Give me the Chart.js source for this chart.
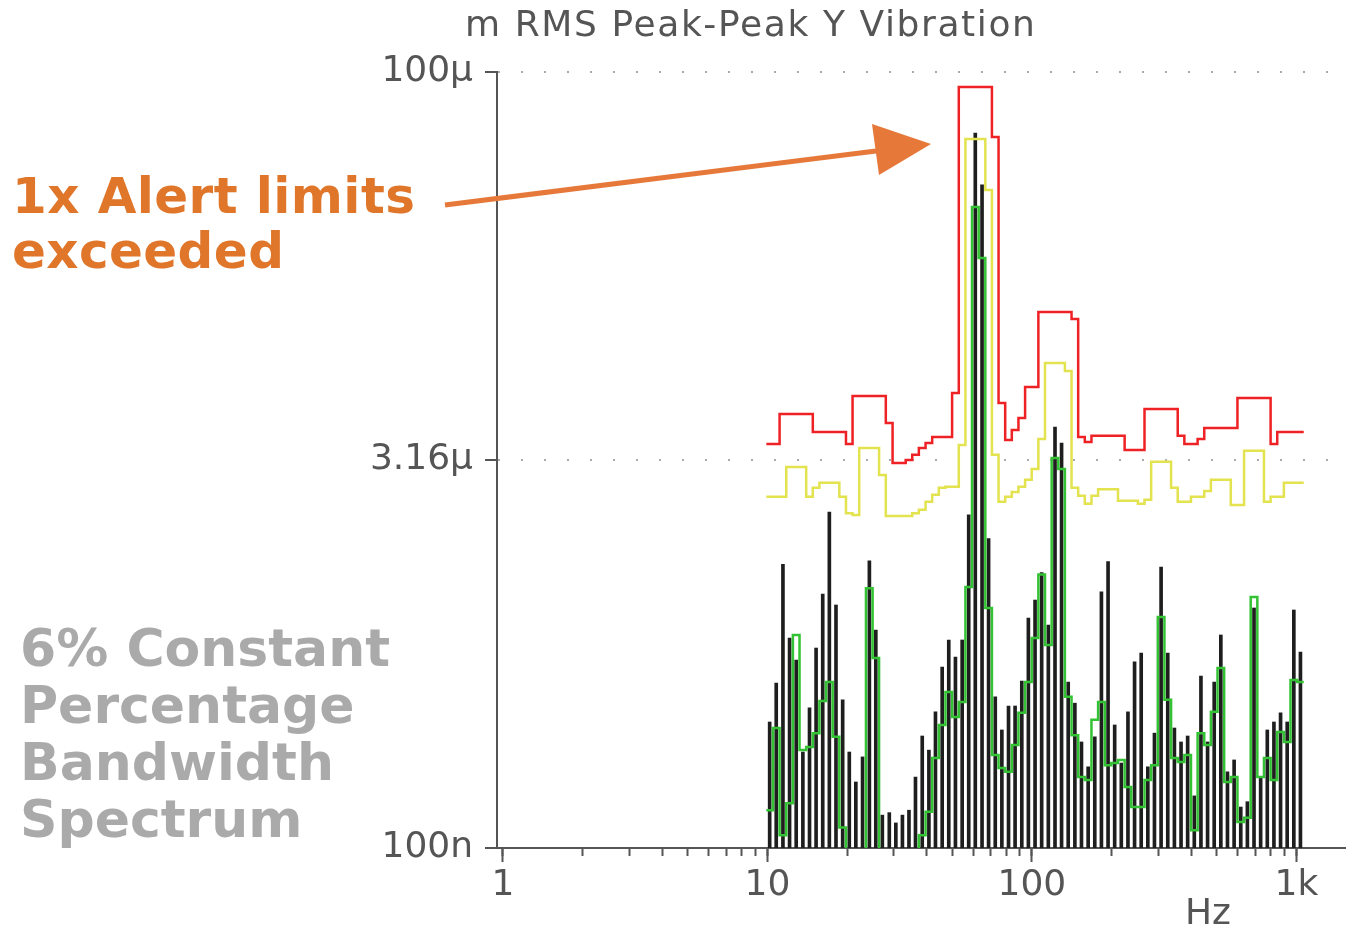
<!DOCTYPE html>
<html>
<head>
<meta charset="utf-8">
<title>m RMS Peak-Peak Y Vibration</title>
<script src="https://cdn.jsdelivr.net/npm/chart.js@4.4.1/dist/chart.umd.min.js"></script>
<style>
  html, body { margin: 0; padding: 0; background: #fff; }
  #wrap { position: relative; width: 1347px; height: 929px; overflow: hidden; font-family: 'DejaVu Sans', sans-serif; }
  #plot { position: absolute; left: 0; top: 0; }
  .lbl { position: absolute; white-space: nowrap; }
  #title { left: 465px; top: 6px; font-size: 36px; line-height: 36px; color: #555; letter-spacing: 1.6px; }
  #hz { left: 1185px; top: 894px; font-size: 36px; line-height: 36px; color: #555; }
  #alert { left: 12px; top: 169px; font-size: 50px; line-height: 55px; font-weight: bold; color: #e0762a; letter-spacing: 0.4px; }
  #cpb { left: 20px; top: 620px; font-size: 52px; line-height: 57px; font-weight: bold; color: #aaa; }
  #arrow { position: absolute; left: 0; top: 0; }
</style>
</head>
<body>
<div id="wrap">
  <canvas id="plot" width="1347" height="929"></canvas>
  <div class="lbl" id="title">m RMS Peak-Peak Y Vibration</div>
  <div class="lbl" id="hz">Hz</div>
  <div class="lbl" id="alert">1x Alert limits<br>exceeded</div>
  <div class="lbl" id="cpb">6% Constant<br>Percentage<br>Bandwidth<br>Spectrum</div>
  <svg id="arrow" width="1347" height="929">
    <line x1="445" y1="205" x2="884" y2="150" stroke="#e6783a" stroke-width="5"/>
    <polygon points="931,144 872,124 879,175" fill="#e6783a"/>
  </svg>
</div>
<script>
// 6% CPB band centres (Hz)
const bandHz = [10.2, 10.8, 11.45, 12.13, 12.85, 13.62, 14.43, 15.28, 16.19, 17.15, 18.17, 19.26,
  20.4, 21.6, 22.9, 24.3, 25.7, 27.2, 28.9, 30.6, 32.4, 34.3, 36.3, 38.5,
  40.8, 43.2, 45.8, 48.5, 51.4, 54.5, 57.7, 61.1, 64.8, 68.6, 72.7, 77.0,
  81.6, 86.4, 91.6, 97.0, 102.8, 108.9, 115.4, 122.3, 129.5, 137.2, 145.4, 154.0,
  163.2, 172.9, 183.2, 194.1, 205.6, 217.8, 230.8, 244.5, 259.0, 274.4, 290.7, 308.0,
  326.4, 345.8, 366.4, 388.1, 411.2, 435.7, 461.6, 489.0, 518.1, 548.9, 581.6, 616.2,
  652.8, 691.6, 732.7, 776.3, 822.5, 871.4, 923.2, 978.1, 1036];
// outer edges of the first and last band, so the step lines cover full bands
const bandEdgesHz = [9.91, 1066];

// measured spectrum, micrometres
const spectrum = [0.307, 0.434, 1.25, 0.648, 0.533, 0.235, 0.348, 0.593, 0.959, 1.99,
  0.870, 0.374, 0.235, 0.180, 0.225, 1.29, 0.696, 0.134, 0.137, 0.125,
  0.134, 0.140, 0.188, 0.271, 0.239, 0.336, 0.501, 0.637, 0.547, 0.637,
  1.94, 58.1, 36.6, 1.57, 0.384, 0.286, 0.354, 0.354, 0.442, 0.775,
  0.909, 1.16, 0.728, 4.24, 3.68, 0.438, 0.363, 0.257, 0.206, 0.269,
  0.977, 1.28, 0.299, 0.213, 0.336, 0.524, 0.567, 0.206, 0.278, 1.22,
  0.567, 0.291, 0.257, 0.271, 0.159, 0.462, 0.257, 0.438, 0.666, 0.197,
  0.219, 0.144, 0.151, 0.847, 0.188, 0.286, 0.307, 0.333, 0.307, 0.832,
  0.572];

// baseline spectrum (green trace), micrometres
const baseline = [0.140, 0.291, 0.112, 0.149, 0.666, 0.239, 0.246, 0.278, 0.370, 0.438,
  0.269, 0.120, 0.08, 0.08, 0.08, 1.01, 0.543, 0.08, 0.08, 0.08,
  0.08, 0.08, 0.08, 0.112, 0.138, 0.223, 0.299, 0.401, 0.321, 0.367,
  1.02, 30.1, 19.1, 0.847, 0.229, 0.204, 0.197, 0.250, 0.333, 0.438,
  0.648, 1.14, 0.609, 3.22, 2.92, 0.384, 0.273, 0.188, 0.183, 0.313,
  0.367, 0.209, 0.213, 0.219, 0.172, 0.144, 0.144, 0.183, 0.209, 0.782,
  0.374, 0.223, 0.215, 0.229, 0.117, 0.278, 0.250, 0.336, 0.497, 0.180,
  0.188, 0.126, 0.131, 0.934, 0.188, 0.223, 0.183, 0.281, 0.257, 0.446,
  0.438];

// alert limit (yellow) and danger limit (red), micrometres
const alertLimit = [2.28, 2.28, 2.28, 2.97, 2.97, 2.97, 2.28, 2.47, 2.58, 2.58,
  2.58, 2.28, 1.97, 1.94, 3.52, 3.52, 3.52, 2.77, 1.92, 1.92,
  1.92, 1.92, 1.97, 2.03, 2.18, 2.32, 2.47, 2.49, 2.49, 3.61,
  55.1, 55.1, 55.1, 35.0, 3.31, 2.18, 2.28, 2.38, 2.49, 2.65,
  2.92, 3.81, 7.50, 7.50, 7.50, 6.99, 2.47, 2.30, 2.14, 2.30,
  2.44, 2.44, 2.44, 2.20, 2.20, 2.20, 2.14, 2.22, 3.11, 3.11,
  3.11, 2.47, 2.18, 2.18, 2.28, 2.28, 2.40, 2.65, 2.65, 2.65,
  2.12, 2.12, 3.43, 3.43, 3.43, 2.18, 2.28, 2.28, 2.58, 2.58,
  2.58];
const dangerLimit = [3.65, 3.65, 4.76, 4.76, 4.76, 4.76, 4.76, 4.06, 4.06, 4.06,
  4.06, 4.06, 3.65, 5.59, 5.59, 5.59, 5.59, 5.59, 4.40, 3.08,
  3.08, 3.16, 3.31, 3.52, 3.68, 3.88, 3.88, 3.88, 5.74, 87.5,
  87.5, 87.5, 87.5, 87.5, 56.1, 5.25, 3.78, 4.13, 4.60, 6.06,
  6.06, 11.8, 11.8, 11.8, 11.8, 11.8, 11.1, 3.88, 3.71, 3.92,
  3.92, 3.92, 3.92, 3.92, 3.46, 3.46, 3.46, 4.98, 4.98, 4.98,
  4.98, 4.98, 3.92, 3.65, 3.65, 3.81, 4.20, 4.20, 4.20, 4.20,
  4.20, 5.49, 5.49, 5.49, 5.49, 5.49, 3.65, 4.06, 4.06, 4.06,
  4.06];

// axis ticks
const xTickValues = [1, 10, 100, 1000];
const xTickLabels = ['1', '10', '100', '1k'];
const xMinorTicks = [1, 2, 3, 4, 5, 6, 7, 8, 9, 10, 20, 30, 40, 50, 60, 70, 80, 90,
  100, 200, 300, 400, 500, 600, 700, 800, 900, 1000];
const yTickValues = [0.1, 3.16, 100];
const yTickLabels = ['100n', '3.16\u03bc', '100\u03bc'];

const AXIS = '#555';

function stepPoints(values) {
  const pts = bandHz.map((f, i) => ({ x: f, y: values[i] }));
  return [{ x: bandEdgesHz[0], y: values[0] }, ...pts, { x: bandEdgesHz[1], y: values[values.length - 1] }];
}

Chart.defaults.font.family = "'DejaVu Sans', sans-serif";

new Chart(document.getElementById('plot'), {
  type: 'bar',
  data: {
    datasets: [
      {
        type: 'line', label: 'Danger', data: stepPoints(dangerLimit),
        borderColor: '#ee2124', borderWidth: 2.5, stepped: 'middle', pointRadius: 0,
        order: 1, xAxisID: 'x', yAxisID: 'y'
      },
      {
        type: 'line', label: 'Alert', data: stepPoints(alertLimit),
        borderColor: '#e3e24f', borderWidth: 2.5, stepped: 'middle', pointRadius: 0,
        order: 2, xAxisID: 'x', yAxisID: 'y'
      },
      {
        type: 'line', label: 'Baseline', data: stepPoints(baseline),
        borderColor: '#33c233', borderWidth: 2.5, stepped: 'middle', pointRadius: 0,
        order: 3, xAxisID: 'x', yAxisID: 'y'
      },
      {
        type: 'bar', label: 'Measured', data: bandHz.map((f, i) => ({ x: f, y: spectrum[i] })),
        backgroundColor: '#1e1e1e', borderWidth: 0, barThickness: 3,
        order: 4, xAxisID: 'x', yAxisID: 'y'
      }
    ]
  },
  options: {
    responsive: false,
    animation: false,
    devicePixelRatio: 1,
    layout: { padding: { top: 72, left: 0, right: 2, bottom: 0 } },
    plugins: { legend: { display: false }, tooltip: { enabled: false } },
    scales: {
      x: {
        type: 'logarithmic', position: 'bottom', min: 0.95, max: 1527, offset: false, weight: 1,
        afterBuildTicks: s => { s.ticks = xTickValues.map(v => ({ value: v })); },
        afterFit: s => { s.height = 81; },
        grid: { drawOnChartArea: false, offset: false, tickLength: 14, tickWidth: 2, tickColor: AXIS },
        border: { color: AXIS, width: 2 },
        ticks: {
          color: AXIS, font: { size: 36 }, padding: 2, maxRotation: 0, autoSkip: false,
          callback: (v, i) => xTickLabels[i]
        }
      },
      xMinor: {
        type: 'logarithmic', axis: 'x', position: 'bottom', min: 0.95, max: 1527, offset: false, weight: 0,
        afterBuildTicks: s => { s.ticks = xMinorTicks.map(v => ({ value: v })); },
        afterFit: s => { s.height = 0; },
        grid: { drawOnChartArea: false, offset: false, tickLength: 8, tickWidth: 2, tickColor: AXIS },
        border: { display: false },
        ticks: { display: false }
      },
      y: {
        type: 'logarithmic', min: 0.1, max: 100,
        afterBuildTicks: s => { s.ticks = yTickValues.map(v => ({ value: v })); },
        afterFit: s => { s.width = 497; },
        grid: {
          color: c => (c.tick && c.tick.value === yTickValues[0]) ? 'rgba(0,0,0,0)' : '#aaa',
          lineWidth: 2, tickLength: 12, tickWidth: 2, tickColor: AXIS
        },
        border: { color: AXIS, width: 2, dash: [2, 21] },
        ticks: {
          color: AXIS, font: { size: 36 }, padding: 12,
          callback: (v, i) => yTickLabels[i]
        }
      }
    }
  }
});
</script>
</body>
</html>
